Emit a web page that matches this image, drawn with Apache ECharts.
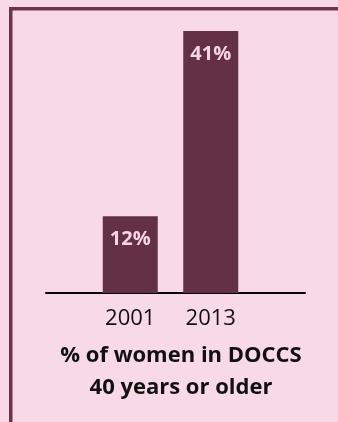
<!DOCTYPE html>
<html>
<head>
<meta charset="utf-8">
<script src="https://cdn.jsdelivr.net/npm/echarts@6/dist/echarts.min.js"></script>
<style>
  html, body { margin: 0; padding: 0; background: #f8d9e8; }
  #main { width: 338px; height: 422px; }
</style>
</head>
<body>
<div id="main"></div>
<script>
// data
const years = ['2001', '2013']
const shareOver40 = [12, 41]
const titleLines = ['% of women in DOCCS', '40 years or older']

const chart = echarts.init(document.getElementById('main'))
const option = {
  backgroundColor: '#f8d9e8',
  animation: false,
  title: {
    text: titleLines.join('\n'),
    left: 176,
    top: 335,
    textAlign: 'center',
    textStyle: {
      fontFamily: 'Open Sans',
      fontWeight: 'bold',
      fontSize: 22,
      lineHeight: 32,
      color: '#111'
    }
  },
  graphic: [
    // frame: top and left edges
    { type: 'rect', shape: { x: 9, y: 7, width: 329, height: 3.5 }, style: { fill: '#6a344b' } },
    { type: 'rect', shape: { x: 9, y: 7, width: 3.5, height: 415 }, style: { fill: '#6a344b' } }
  ],
  grid: [
    { left: 90, width: 161, top: 31, bottom: 129 },
    { left: 46, right: 33, top: 31, bottom: 129 }
  ],
  xAxis: [
    {
      type: 'category',
      gridIndex: 0,
      data: years,
      axisLine: { show: false },
      axisTick: { show: false },
      axisLabel: {
        margin: 15,
        fontFamily: 'Open Sans',
        fontSize: 22,
        color: '#111'
      }
    },
    {
      type: 'category',
      gridIndex: 1,
      data: [''],
      axisLine: { lineStyle: { color: '#000', width: 2 } },
      axisTick: { show: false },
      axisLabel: { show: false }
    }
  ],
  yAxis: [
    { type: 'value', gridIndex: 0, min: 0, max: 41, show: false },
    { type: 'value', gridIndex: 1, min: 0, max: 41, show: false }
  ],
  series: [
    {
      type: 'bar',
      xAxisIndex: 0,
      yAxisIndex: 0,
      barWidth: 55,
      data: shareOver40,
      itemStyle: { color: '#633045' },
      label: {
        show: true,
        position: 'insideTop',
        distance: 13,
        formatter: '{c}%',
        fontFamily: 'Open Sans',
        fontWeight: 'bold',
        fontSize: 20,
        color: '#f6d6e6'
      }
    }
  ]
}
chart.setOption(option)
</script>
</body>
</html>
